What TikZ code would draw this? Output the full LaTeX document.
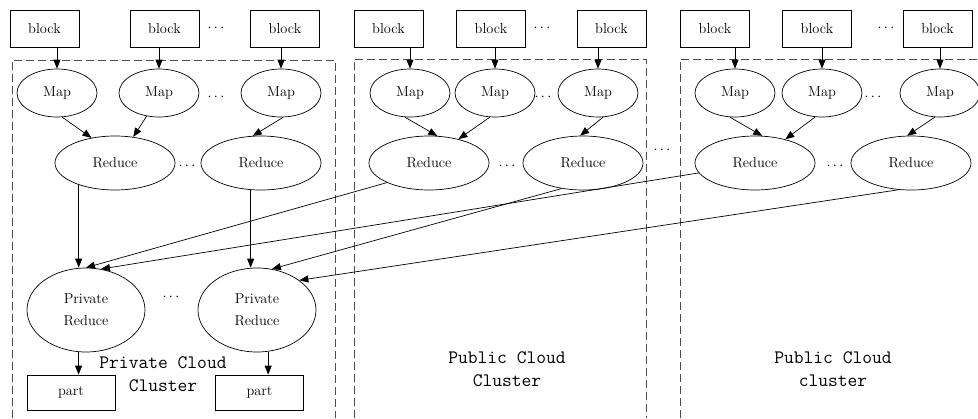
\RequirePackage{fix-cm}
\documentclass[tikz,border=0pt]{standalone}
\usetikzlibrary{shapes.geometric,arrows.meta}

\begin{document}
\begin{tikzpicture}[x=1pt,y=-1pt,line width=0.7pt,
  font=\fontsize{14.4}{17}\selectfont,
  blk/.style={draw,minimum width=69pt,minimum height=37pt,inner sep=0pt},
  mapnode/.style={draw,ellipse,minimum width=80pt,minimum height=48pt,inner sep=0pt},
  rednode/.style={draw,ellipse,minimum width=120pt,minimum height=54pt,inner sep=0pt},
  privnode/.style={draw,ellipse,minimum width=118pt,minimum height=84pt,inner sep=0pt,
    align=center,font=\fontsize{14.4}{22}\selectfont},
  partnode/.style={draw,minimum width=88pt,minimum height=35pt,inner sep=0pt},
  arr/.style={-{Triangle[length=9pt,width=7pt]}},
  cluster/.style={dash pattern=on 8pt off 4pt,draw=black!70,line width=0.8pt},
  lbl/.style={font=\ttfamily\fontsize{19}{23}\selectfont,align=center}]
  \useasboundingbox (0,0) rectangle (978,418);

  \draw[cluster] (12,418) -- (12,60) -- (335,60) -- (335,418);
  \draw[cluster] (354,418) -- (354,59) -- (646,59) -- (646,418);
  \draw[cluster] (680,418) -- (680,59) -- (978,59);

  \node[blk] (lb1) at (44.5,28.5) {block};
  \node[blk] (lb2) at (164.5,28.5) {block};
  \node[blk] (lb3) at (285,28.5) {block};
  \node[blk] (mb1) at (388.5,28.5) {block};
  \node[blk] (mb2) at (491,28.5) {block};
  \node[blk] (mb3) at (611.5,28.5) {block};
  \node[blk] (rb1) at (715,28.5) {block};
  \node[blk] (rb2) at (817,28.5) {block};
  \node[blk] (rb3) at (937.5,28.5) {block};

  \node[mapnode] (lm1) at (57,93) {Map};
  \node[mapnode] (lm2) at (159,93) {Map};
  \node[mapnode] (lm3) at (281,93) {Map};
  \node[mapnode] (mm1) at (410,93) {Map};
  \node[mapnode] (mm2) at (495,93) {Map};
  \node[mapnode] (mm3) at (598,93) {Map};
  \node[mapnode] (rm1) at (735,93) {Map};
  \node[mapnode] (rm2) at (822,93) {Map};
  \node[mapnode] (rm3) at (940,93) {Map};

  \node[rednode] (lr1) at (115,163) {Reduce};
  \node[rednode] (lr2) at (261,163) {Reduce};
  \node[rednode] (mr1) at (429,163) {Reduce};
  \node[rednode] (mr2) at (583,163) {Reduce};
  \node[rednode] (rr1) at (755,163) {Reduce};
  \node[rednode] (rr2) at (911,163) {Reduce};

  \node[privnode] (pr1) at (86,310) {Private\\Reduce};
  \node[privnode] (pr2) at (257,310) {Private\\Reduce};

  \node[partnode] (pt1) at (71,392.5) {part};
  \node[partnode] (pt2) at (259.5,392.5) {part};

  \node (lbdots) at (216,28) {$\cdots$};
  \node (mbdots) at (542,28) {$\cdots$};
  \node (rbdots) at (886,28) {$\cdots$};
  \node (lmdots) at (216,97) {$\cdots$};
  \node (mmdots) at (543,97) {$\cdots$};
  \node (rmdots) at (873,97) {$\cdots$};
  \node (lrdots) at (187,166) {$\cdots$};
  \node (mrdots) at (507,166) {$\cdots$};
  \node (rrdots) at (835,166) {$\cdots$};
  \node (cdots) at (662,150) {$\cdots$};
  \node (prdots) at (171,297) {$\cdots$};

  \node[lbl] (lname) at (163,374.5) {Private Cloud\\Cluster};
  \node[lbl] (mname) at (507,369) {Public Cloud\\Cluster};
  \node[lbl] (rname) at (833,369) {Public Cloud\\cluster};

  \draw[arr] (lm1.north |- lb1.south) -- (lm1.north);
  \draw[arr] (lm2.north |- lb2.south) -- (lm2.north);
  \draw[arr] (lm3.north |- lb3.south) -- (lm3.north);
  \draw[arr] (mm1.north |- mb1.south) -- (mm1.north);
  \draw[arr] (mm2.north |- mb2.south) -- (mm2.north);
  \draw[arr] (mm3.north |- mb3.south) -- (mm3.north);
  \draw[arr] (rm1.north |- rb1.south) -- (rm1.north);
  \draw[arr] (rm2.north |- rb2.south) -- (rm2.north);
  \draw[arr] (rm3.north |- rb3.south) -- (rm3.north);

  \draw[arr] (lm1.282) -- (lr1.133);
  \draw[arr] (lm2.242) -- (lr1.55);
  \draw[arr] (lm3.275) -- (lr2.107);
  \draw[arr] (mm1.258) -- (mr1.73);
  \draw[arr] (mm2.258) -- (mr1.39);
  \draw[arr] (mm3.282) -- (mr2.96);
  \draw[arr] (rm1.258) -- (rr1.75);
  \draw[arr] (rm2.254) -- (rr1.38);
  \draw[arr] (rm3.258) -- (rr2.98);

  \draw[arr] (lr1.211) -- (lr1.211 |- pr1.north);
  \draw[arr] (lr2.249) -- (lr2.249 |- pr2.north);
  \draw[arr] (mr1.205) -- (pr1.north);
  \draw[arr] (mr2.230) -- (pr2.70);
  \draw[arr] (rr1.190) -- (pr1.70);
  \draw[arr] (rr2.245) -- (pr2.35);

  \draw[arr] (pr1.260) -- (pr1.260 |- pt1.north);
  \draw[arr] (pr2.285) -- (pr2.285 |- pt2.north);
\end{tikzpicture}
\end{document}
